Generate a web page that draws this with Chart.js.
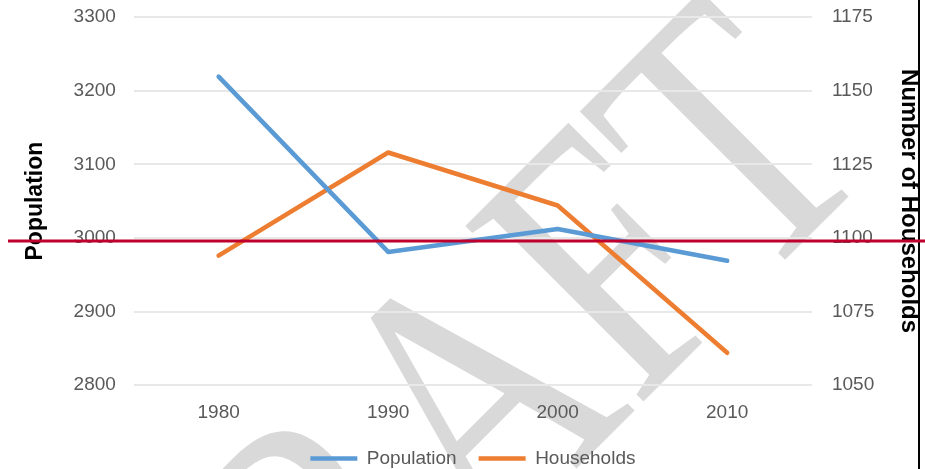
<!DOCTYPE html>
<html>
<head>
<meta charset="utf-8">
<script src="https://cdn.jsdelivr.net/npm/chart.js@4/dist/chart.umd.min.js"></script>
<style>
  html, body { margin: 0; padding: 0; background: #fff; }
  #wrap { width: 925px; height: 469px; position: relative; }
</style>
</head>
<body>
<div id="wrap"><canvas id="popChart"></canvas></div>
<script>
// values
var years = ['1980', '1990', '2000', '2010'];
var population = [3219, 2981, 3012, 2969];
var households = [1094, 1129, 1111, 1061];
// axis ranges
var popRange = [2800, 3300, 100];
var houseRange = [1050, 1175, 25];

var blue = '#5b9bd5';
var orange = '#ed7d31';
var tickGrey = '#595959';

// big grey DRAFT stamp behind everything
var draftStamp = {
    id: 'draftStamp',
    beforeDraw: function(chart) {
        var ctx = chart.ctx;
        ctx.save();
        ctx.fillStyle = '#d9d9d9';
        ctx.font = '382px "Liberation Serif"';
        ctx.textAlign = 'left';
        ctx.textBaseline = 'alphabetic';
        ctx.translate(193, 852);
        ctx.rotate(-45 * Math.PI / 180);
        ctx.scale(0.777, 1);
        ctx.fillText('DRAFT', 0, 0);
        ctx.restore();
    }
};

// black edge on the right, then the red rule across the whole page
var overlayLines = {
    id: 'overlayLines',
    afterDraw: function(chart) {
        var ctx = chart.ctx;
        var w = chart.width, h = chart.height;
        ctx.save();
        ctx.fillStyle = '#fff';
        ctx.fillRect(920, 0, w - 920, h);
        ctx.strokeStyle = '#000';
        ctx.lineWidth = 2;
        ctx.beginPath();
        ctx.moveTo(919, 0);
        ctx.lineTo(919, h);
        ctx.stroke();
        ctx.strokeStyle = '#c0002c';
        ctx.lineWidth = 3;
        ctx.beginPath();
        ctx.moveTo(8, 241);
        ctx.lineTo(w, 241);
        ctx.stroke();
        ctx.restore();
    }
};

function plain(v) { return String(v); }

// let the layout padding decide the top of the plot, not the tick padding
function trimPadding(scale) {
    scale.paddingTop = 0;
    scale.paddingBottom = 0;
}

var chart = new Chart(document.getElementById('popChart').getContext('2d'), {
    type: 'line',
    data: {
        labels: years,
        datasets: [{
            label: 'Population',
            data: population,
            yAxisID: 'y',
            borderColor: blue,
            backgroundColor: blue,
            borderWidth: 4.5,
            borderCapStyle: 'round',
            borderJoinStyle: 'round',
            pointRadius: 0,
            tension: 0
        }, {
            label: 'Households',
            data: households,
            yAxisID: 'y1',
            borderColor: orange,
            backgroundColor: orange,
            borderWidth: 4.5,
            borderCapStyle: 'round',
            borderJoinStyle: 'round',
            pointRadius: 0,
            tension: 0
        }]
    },
    options: {
        responsive: true,
        maintainAspectRatio: false,
        animation: false,
        layout: {
            padding: { left: 22, right: 2, top: 17, bottom: -9 }
        },
        plugins: {
            tooltip: { enabled: false },
            legend: {
                position: 'bottom',
                fullSize: false,
                labels: {
                    usePointStyle: true,
                    pointStyle: 'line',
                    pointStyleWidth: 47,
                    padding: 22,
                    color: tickGrey,
                    font: { family: '"Liberation Sans"', size: 19 }
                }
            }
        },
        scales: {
            x: {
                offset: true,
                grid: { display: false, drawTicks: false },
                border: { display: false },
                ticks: {
                    padding: 16,
                    color: tickGrey,
                    font: { family: '"Liberation Sans"', size: 19 }
                },
                afterFit: function(scale) { scale.height -= 13; }
            },
            y: {
                position: 'left',
                min: popRange[0],
                max: popRange[1],
                afterFit: trimPadding,
                ticks: {
                    stepSize: popRange[2],
                    padding: 18,
                    color: tickGrey,
                    callback: plain,
                    font: { family: '"Liberation Sans"', size: 19 }
                },
                grid: { color: '#e8e8e8', lineWidth: 2, drawTicks: false },
                border: { display: false },
                title: {
                    display: true,
                    text: 'Population',
                    color: '#000',
                    padding: { top: 0, bottom: 6 },
                    font: { family: '"Liberation Sans"', size: 23, weight: 'bold' }
                }
            },
            y1: {
                position: 'right',
                min: houseRange[0],
                max: houseRange[1],
                afterFit: trimPadding,
                ticks: {
                    stepSize: houseRange[2],
                    padding: 20,
                    color: tickGrey,
                    callback: plain,
                    font: { family: '"Liberation Sans"', size: 19 }
                },
                grid: { display: false, drawTicks: false },
                border: { display: false },
                title: {
                    display: true,
                    text: 'Number of Households',
                    color: '#000',
                    padding: { top: 0, bottom: 0 },
                    font: { family: '"Liberation Sans"', size: 24, weight: 'bold' }
                }
            }
        }
    },
    plugins: [draftStamp, overlayLines]
});
</script>
</body>
</html>
